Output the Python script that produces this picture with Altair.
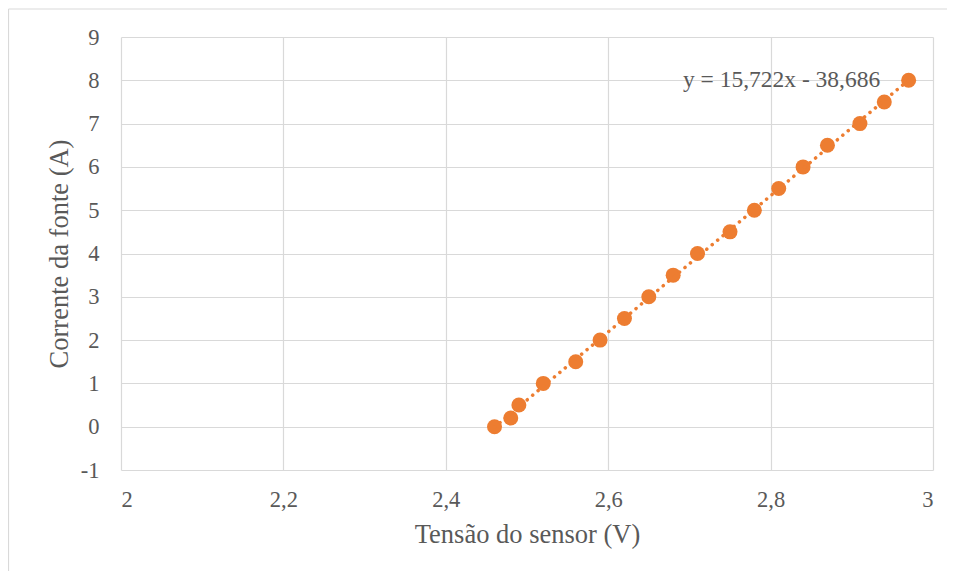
import altair as alt
import pandas as pd

# Data
tensao = [2.46, 2.48, 2.49, 2.52, 2.56, 2.59, 2.62, 2.65, 2.68, 2.71,
          2.75, 2.78, 2.81, 2.84, 2.87, 2.91, 2.94, 2.97]
corrente = [0, 0.2, 0.5, 1, 1.5, 2, 2.5, 3, 3.5, 4,
            4.5, 5, 5.5, 6, 6.5, 7, 7.5, 8]
x_ticks = [2, 2.2, 2.4, 2.6, 2.8, 3]
y_ticks = [-1, 0, 1, 2, 3, 4, 5, 6, 7, 8, 9]
eq_label = ["y = 15,722x - 38,686"]
eq_x = [2.935]
eq_y = [8.0]

df = pd.DataFrame({"x": tensao, "y": corrente})
df_eq = pd.DataFrame({"x": eq_x, "y": eq_y, "t": eq_label})

FONT = "Liberation Serif"
GRAY = "#595959"
GRID = "#d9d9d9"
ORANGE = "#ED7D31"
W, H = 812, 433
PAD = {"left": 113, "top": 29, "right": 14, "bottom": 101}

xscale = alt.Scale(domain=[2, 3], nice=False, zero=False)
yscale = alt.Scale(domain=[-1, 9], nice=False, zero=False)

LBL = "replace(toString(datum.value), '.', ',')"

xaxis = alt.Axis(values=x_ticks, title="Tensão do sensor (V)", grid=True,
                 labelExpr=LBL, ticks=False, domain=False,
                 labelPadding=18, titlePadding=11)
yaxis = alt.Axis(values=y_ticks, title="Corrente da fonte (A)", grid=True,
                 labelExpr=LBL, ticks=False, domain=False,
                 labelPadding=22, titlePadding=7)

base = alt.Chart(df)

points = base.mark_circle(size=225, opacity=1, color=ORANGE).encode(
    x=alt.X("x:Q", scale=xscale, axis=xaxis),
    y=alt.Y("y:Q", scale=yscale, axis=yaxis),
)

trend = base.transform_regression("x", "y").mark_line(
    color=ORANGE, strokeWidth=3.5, strokeDash=[0.1, 7], strokeCap="round"
).encode(
    x=alt.X("x:Q", scale=xscale),
    y=alt.Y("y:Q", scale=yscale),
)

eq = alt.Chart(df_eq).mark_text(
    align="right", baseline="middle", font=FONT, fontSize=23.5, color=GRAY
).encode(
    x=alt.X("x:Q", scale=xscale),
    y=alt.Y("y:Q", scale=yscale),
    text="t:N",
)

# Outer chart-area border (left and top edges visible in the reference)
border_left = alt.Chart(df_eq).mark_rule(color=GRID, strokeWidth=1.2).encode(
    x=alt.value(-PAD["left"] + 0.5),
    y=alt.value(-PAD["top"] + 1),
    y2=alt.value(H + PAD["bottom"]),
)
border_top = alt.Chart(df_eq).mark_rule(color=GRID, strokeWidth=1.2).encode(
    x=alt.value(-PAD["left"] + 0.5),
    x2=alt.value(W + PAD["right"]),
    y=alt.value(-PAD["top"] + 1),
)

chart = alt.layer(border_left, border_top, points, trend, eq).properties(
    width=W, height=H,
    autosize=alt.AutoSizeParams(type="none"),
    padding=PAD,
    background="white",
).configure_view(strokeWidth=0).configure_axis(
    gridColor=GRID, gridWidth=1.2,
    labelFont=FONT, labelFontSize=22.5, labelColor=GRAY,
    titleFont=FONT, titleFontSize=26.5, titleColor=GRAY, titleFontWeight="normal",
)

chart.save("out.html", embed_options={"renderer": "svg", "actions": False})
